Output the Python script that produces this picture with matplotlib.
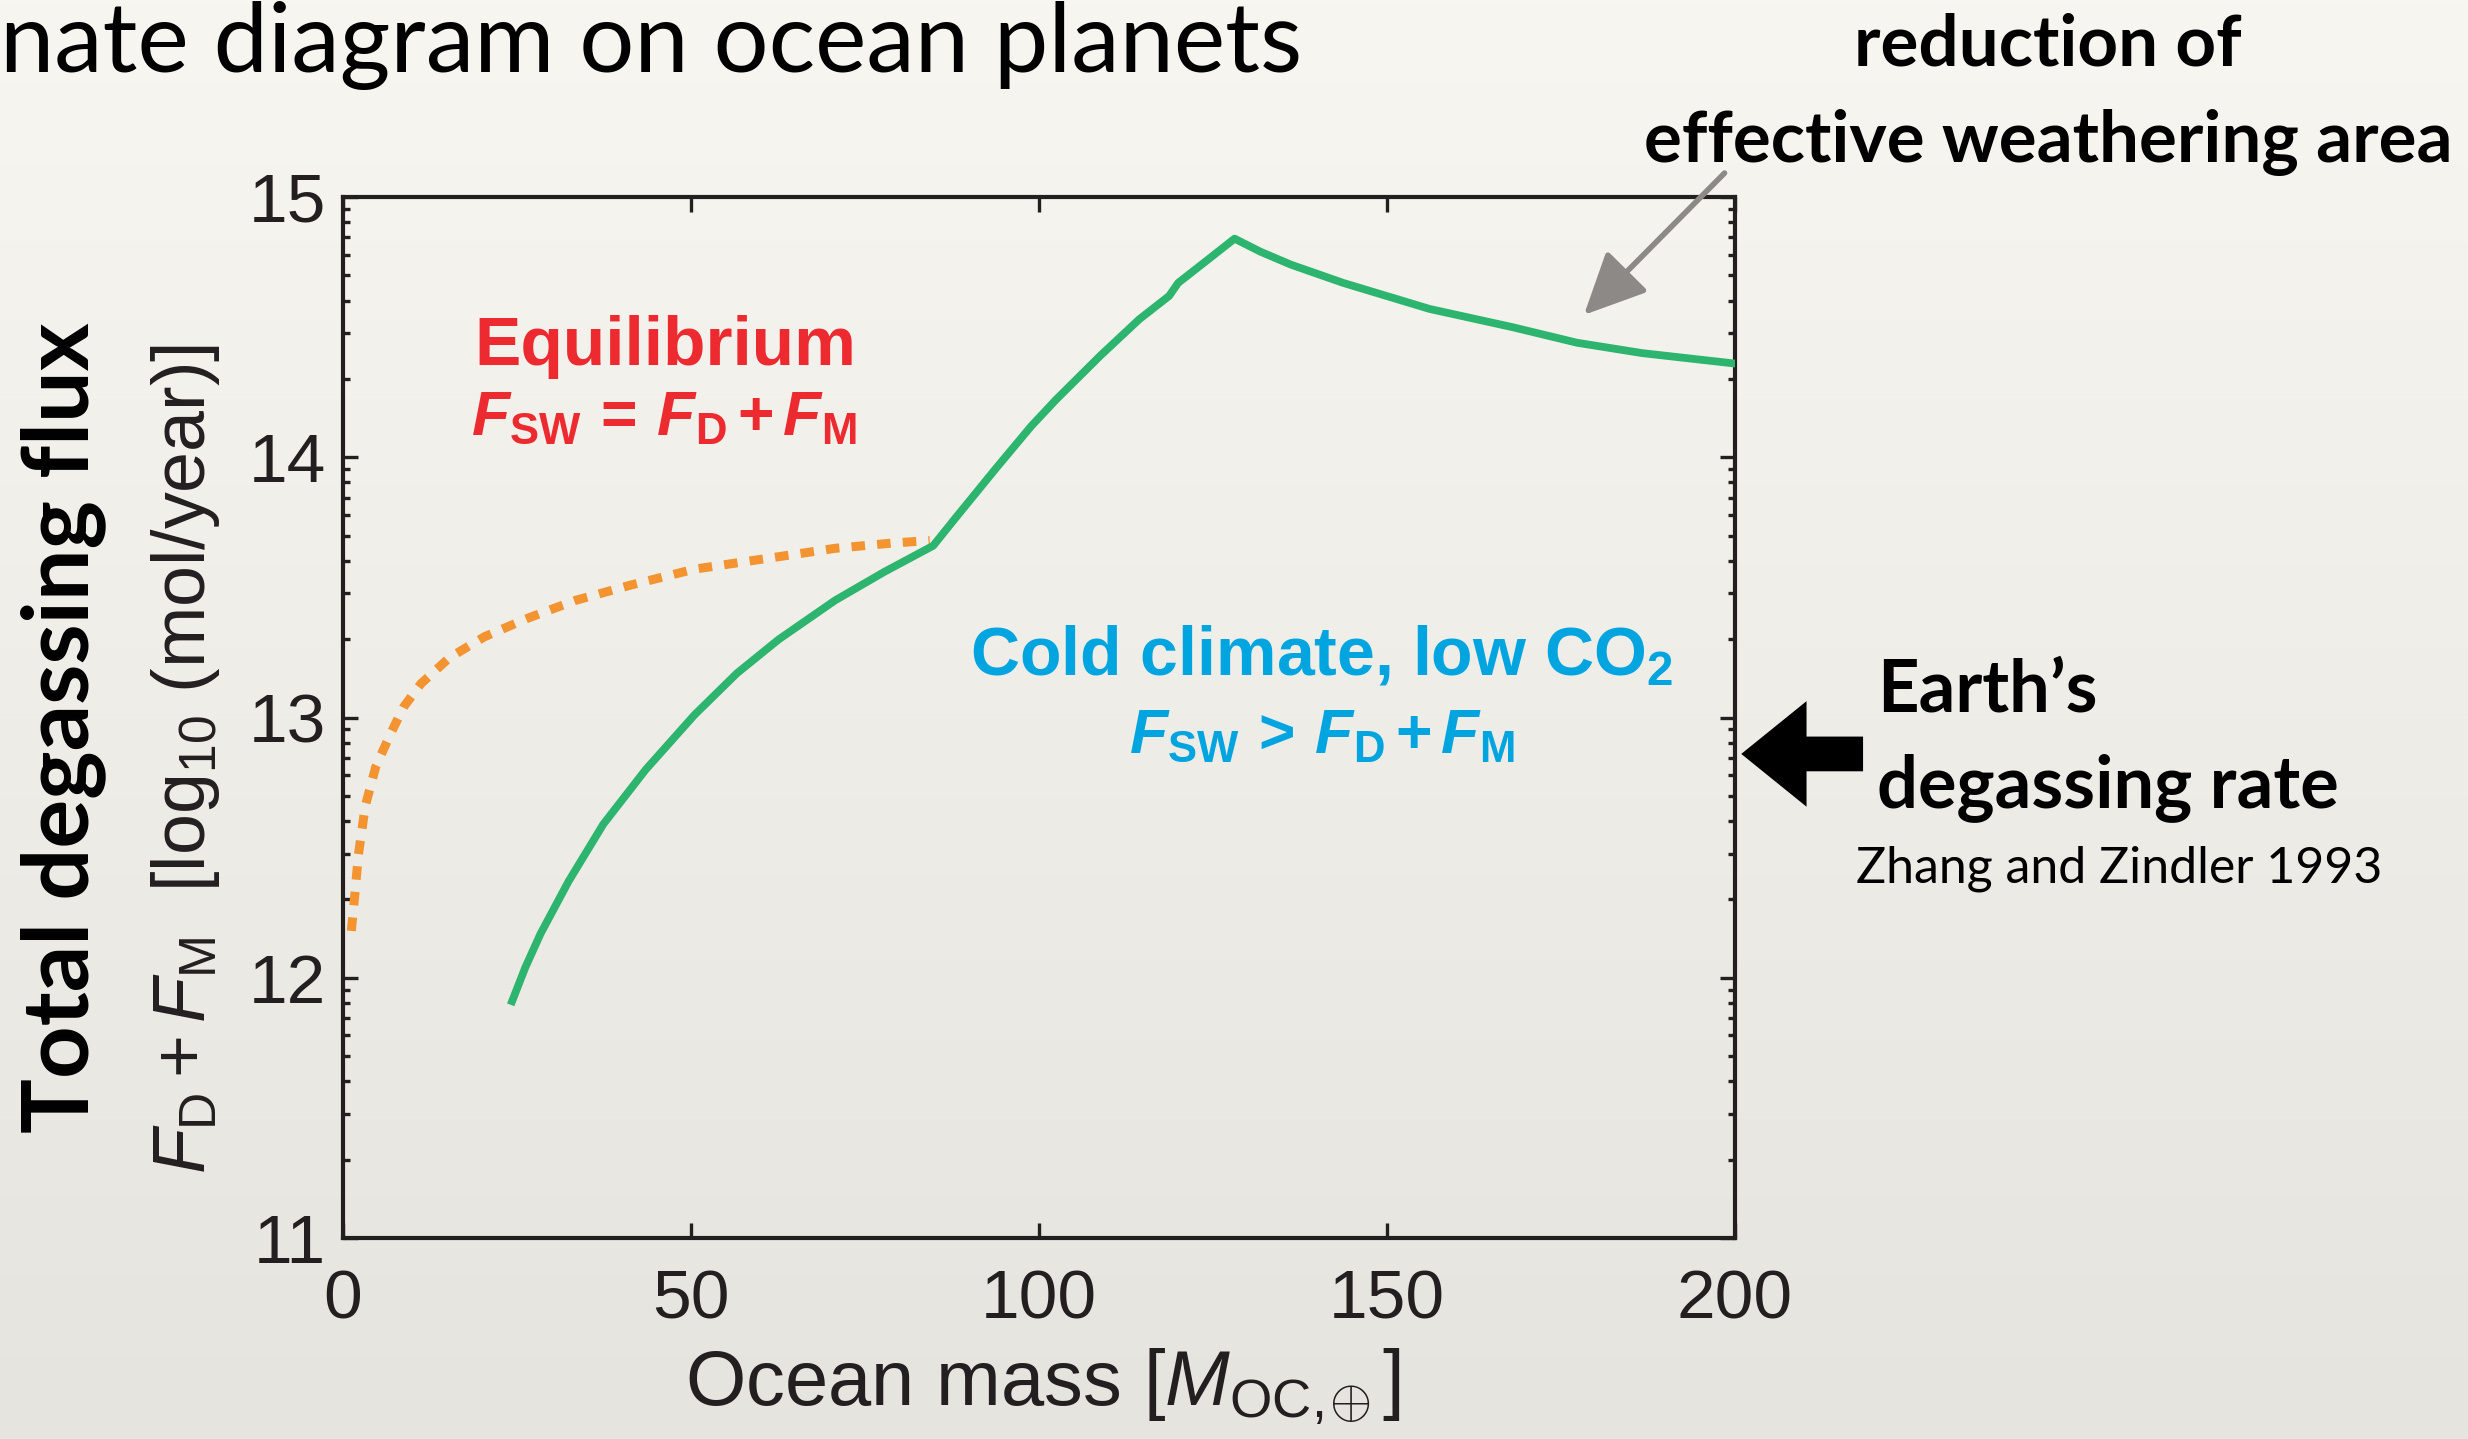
import matplotlib
matplotlib.use("Agg")
import matplotlib.pyplot as plt
import numpy as np
from matplotlib.colors import LinearSegmentedColormap

# green: solid branch (cold climate / weathering-limited)
green_x = [24.3, 26.2, 28.4, 32.4, 37.4, 43.5, 50.5, 56.6, 62.6, 70.7, 77.8, 84.8,
           87.8, 93.9, 98.9, 102.4, 108.8, 114.4, 118.7, 120.0, 124.3, 128.1,
           131.8, 136.2, 143.7, 156.1, 168.0, 177.3, 186.7, 200.0]
green_y = [11.91, 12.04, 12.17, 12.37, 12.59, 12.80, 13.01, 13.17, 13.30, 13.45, 13.56, 13.66,
           13.76, 13.96, 14.12, 14.22, 14.39, 14.53, 14.62, 14.67, 14.76, 14.84,
           14.79, 14.74, 14.67, 14.57, 14.50, 14.44, 14.40, 14.36]

# orange: dotted equilibrium branch
orange_x = [1.2, 1.7, 2.2, 3.2, 4.7, 6.7, 8.7, 11.2, 15.3, 20.3, 26.4, 33.4,
            41.5, 50.5, 60.6, 70.7, 78.8, 84.3]
orange_y = [12.18, 12.32, 12.47, 12.66, 12.81, 12.93, 13.04, 13.13, 13.23, 13.31,
            13.38, 13.45, 13.51, 13.57, 13.61, 13.65, 13.67, 13.68]

earth_rate = 12.86          # log10 mol/yr, Zhang & Zindler 1993
x_ticks = [0, 50, 100, 150, 200]
y_ticks = [11, 12, 13, 14, 15]

W, H = 2468, 1439
RED, BLUE, GREEN, ORANGE, GREY, INK = "#EC2A2F", "#00A5E0", "#2DB46E", "#F39431", "#8C8986", "#231F20"

plt.rcParams["font.family"] = ["Liberation Sans", "DejaVu Sans"]
plt.rcParams["mathtext.fontset"] = "custom"
plt.rcParams["mathtext.rm"] = "Liberation Sans"
plt.rcParams["mathtext.it"] = "Liberation Sans:italic"
plt.rcParams["mathtext.bf"] = "Liberation Sans:bold"
plt.rcParams["mathtext.bfit"] = "Liberation Sans:italic:bold"
plt.rcParams["mathtext.sf"] = "Liberation Sans"


def fx(px):
    return px / W


def fy(py):
    return 1 - py / H


fig = plt.figure(figsize=(W / 100, H / 100), dpi=100)

# paper-like background
bg = fig.add_axes([0, 0, 1, 1], zorder=-10)
paper = LinearSegmentedColormap.from_list("paper", ["#F8F6F1", "#E6E4DF"])
bg.imshow(np.linspace(0, 1, 256).reshape(-1, 1), aspect="auto", cmap=paper,
          extent=[0, 1, 0, 1], origin="upper")
bg.set_axis_off()

ax = fig.add_axes([fx(343), fy(1238), (1735 - 343) / W, (1238 - 197) / H])
ax.patch.set_alpha(0)

ax.plot(orange_x, orange_y, color=ORANGE, lw=6.5, ls=(0, (1.5, 1.35)),
        dash_capstyle="butt", zorder=3)
ax.plot(green_x, green_y, color=GREEN, lw=5.6, solid_joinstyle="round", zorder=4)

ax.set_xlim(0, 200)
ax.set_ylim(11, 15)
ax.set_xticks(x_ticks)
ax.set_yticks(y_ticks)
ax.set_yticks([d + np.log10(k) for d in y_ticks[:-1] for k in range(2, 10)], minor=True)
ax.tick_params(which="both", direction="in", top=True, right=True, width=2.4, color=INK)
ax.tick_params(axis="x", which="major", length=11, labelsize=50, pad=22, labelcolor=INK)
ax.tick_params(axis="y", which="major", length=11, labelsize=50, pad=12, labelcolor=INK)
ax.tick_params(which="minor", length=5)
for sp in ax.spines.values():
    sp.set_linewidth(3)
    sp.set_color(INK)

ax.set_xlabel(r"Ocean mass [$M_{\mathrm{OC},\!\!\oplus}$]", fontsize=56, color=INK)
ax.xaxis.set_label_coords(0.503, -0.104)
ax.set_ylabel(r"$F_\mathrm{D} + F_\mathrm{M}$  [log$_{10}$ (mol/year)]", fontsize=53, color=INK)
ax.yaxis.set_label_coords(-0.113, 0.46)
ax.yaxis.label.set_va("center")

ax.text(-0.201, 0.49, "Total degassing flux", transform=ax.transAxes, rotation=90,
        ha="center", va="center", fontsize=66, fontweight="bold", family="Lato", color="black")

# region labels
fig.text(fx(665), fy(365), "Equilibrium", ha="center", va="baseline",
         fontsize=50, fontweight="bold", color=RED)
fig.text(fx(664), fy(435),
         r"$\mathbfit{F}_\mathbf{SW}\,\mathbf{=}\,\mathbfit{F}_\mathbf{D}\,\mathbf{+}\,\mathbfit{F}_\mathbf{M}$",
         ha="center", va="baseline", fontsize=45, color=RED)
fig.text(fx(1322), fy(675), r"Cold climate, low CO$_\mathbf{2}$", ha="center", va="baseline",
         fontsize=49, fontweight="bold", color=BLUE)
fig.text(fx(1322), fy(753),
         r"$\mathbfit{F}_\mathbf{SW}\,\mathbf{>}\,\mathbfit{F}_\mathbf{D}\,\mathbf{+}\,\mathbfit{F}_\mathbf{M}$",
         ha="center", va="baseline", fontsize=45, color=BLUE)

# Earth's degassing rate marker
ax.annotate("", xy=(200.9, earth_rate), xytext=(218.4, earth_rate),
            arrowprops=dict(arrowstyle="simple,head_length=4.7,head_width=7.6,tail_width=2.5",
                            mutation_scale=10, fc="black", ec="none", shrinkA=0, shrinkB=0),
            annotation_clip=False)
fig.text(fx(1877), fy(712), "Earth\u2019s", ha="left", va="baseline",
         fontsize=52, fontweight="bold", family="Lato", color="black")
fig.text(fx(1877), fy(807), "degassing rate", ha="left", va="baseline",
         fontsize=52, fontweight="bold", family="Lato", color="black")
fig.text(fx(1856), fy(883), "Zhang and Zindler 1993", ha="left", va="baseline",
         fontsize=36, family="Lato", color="black")

# weathering-area note
ax.annotate("", xy=(178.3, 14.547), xytext=(198.5, 15.092),
            arrowprops=dict(arrowstyle="-|>,head_length=3.8,head_width=1.8",
                            mutation_scale=10, lw=4, color=GREY, shrinkA=0, shrinkB=0),
            annotation_clip=False)
fig.text(fx(2048), fy(65), "reduction of", ha="center", va="baseline",
         fontsize=51, fontweight="bold", family="Lato", color="black")
fig.text(fx(2048), fy(162), "effective weathering area", ha="center", va="baseline",
         fontsize=51, fontweight="bold", family="Lato", color="black")

fig.text(fx(0), fy(72), "nate diagram on ocean planets", ha="left", va="baseline",
         fontsize=70, family="Lato", color="black")

fig.savefig("out.png", dpi=100)
